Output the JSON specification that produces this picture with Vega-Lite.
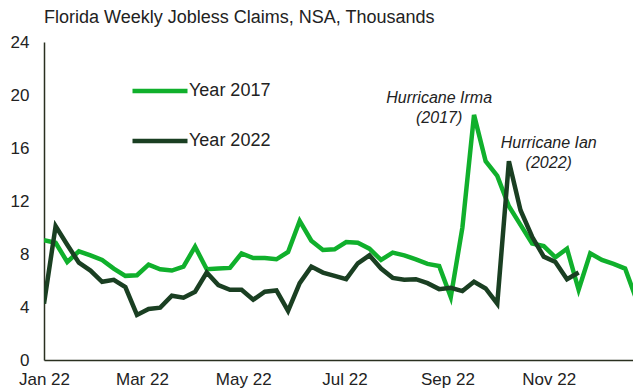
{
  "$schema": "https://vega.github.io/schema/vega-lite/v6.json",
  "width": 589,
  "height": 318,
  "autosize": {"type": "none"},
  "padding": {"left": 44, "top": 42, "right": 0, "bottom": 30},
  "background": "white",
  "title": {
    "text": "Florida Weekly Jobless Claims, NSA, Thousands",
    "anchor": "start",
    "frame": "group",
    "font": "Liberation Sans",
    "fontSize": 18,
    "fontWeight": "normal",
    "color": "#222222",
    "offset": 6,
    "dx": 0
  },
  "config": {
    "view": {"stroke": null},
    "font": "Liberation Sans"
  },
  "datasets": {
    "claims": [
      {"date": "2022-01-01", "series": "Year 2017", "value": 9.05},
      {"date": "2022-01-08", "series": "Year 2017", "value": 8.85},
      {"date": "2022-01-15", "series": "Year 2017", "value": 7.4},
      {"date": "2022-01-22", "series": "Year 2017", "value": 8.2},
      {"date": "2022-01-29", "series": "Year 2017", "value": 7.9},
      {"date": "2022-02-05", "series": "Year 2017", "value": 7.55},
      {"date": "2022-02-12", "series": "Year 2017", "value": 6.9},
      {"date": "2022-02-19", "series": "Year 2017", "value": 6.35},
      {"date": "2022-02-26", "series": "Year 2017", "value": 6.4},
      {"date": "2022-03-05", "series": "Year 2017", "value": 7.2},
      {"date": "2022-03-12", "series": "Year 2017", "value": 6.85},
      {"date": "2022-03-19", "series": "Year 2017", "value": 6.75},
      {"date": "2022-03-26", "series": "Year 2017", "value": 7.05},
      {"date": "2022-04-02", "series": "Year 2017", "value": 8.55},
      {"date": "2022-04-09", "series": "Year 2017", "value": 6.85},
      {"date": "2022-04-16", "series": "Year 2017", "value": 6.9},
      {"date": "2022-04-23", "series": "Year 2017", "value": 6.95},
      {"date": "2022-04-30", "series": "Year 2017", "value": 8.05},
      {"date": "2022-05-07", "series": "Year 2017", "value": 7.7},
      {"date": "2022-05-14", "series": "Year 2017", "value": 7.7},
      {"date": "2022-05-21", "series": "Year 2017", "value": 7.6},
      {"date": "2022-05-28", "series": "Year 2017", "value": 8.15},
      {"date": "2022-06-04", "series": "Year 2017", "value": 10.5},
      {"date": "2022-06-11", "series": "Year 2017", "value": 9.0},
      {"date": "2022-06-18", "series": "Year 2017", "value": 8.3},
      {"date": "2022-06-25", "series": "Year 2017", "value": 8.35},
      {"date": "2022-07-02", "series": "Year 2017", "value": 8.9},
      {"date": "2022-07-09", "series": "Year 2017", "value": 8.85},
      {"date": "2022-07-16", "series": "Year 2017", "value": 8.4},
      {"date": "2022-07-23", "series": "Year 2017", "value": 7.55},
      {"date": "2022-07-30", "series": "Year 2017", "value": 8.1},
      {"date": "2022-08-06", "series": "Year 2017", "value": 7.9},
      {"date": "2022-08-13", "series": "Year 2017", "value": 7.6},
      {"date": "2022-08-20", "series": "Year 2017", "value": 7.25},
      {"date": "2022-08-27", "series": "Year 2017", "value": 7.1},
      {"date": "2022-09-03", "series": "Year 2017", "value": 4.75},
      {"date": "2022-09-10", "series": "Year 2017", "value": 10.0},
      {"date": "2022-09-17", "series": "Year 2017", "value": 18.5},
      {"date": "2022-09-24", "series": "Year 2017", "value": 15.0},
      {"date": "2022-10-01", "series": "Year 2017", "value": 13.9},
      {"date": "2022-10-08", "series": "Year 2017", "value": 11.6},
      {"date": "2022-10-15", "series": "Year 2017", "value": 10.2},
      {"date": "2022-10-22", "series": "Year 2017", "value": 8.8},
      {"date": "2022-10-29", "series": "Year 2017", "value": 8.6},
      {"date": "2022-11-05", "series": "Year 2017", "value": 7.75},
      {"date": "2022-11-12", "series": "Year 2017", "value": 8.4},
      {"date": "2022-11-19", "series": "Year 2017", "value": 5.3},
      {"date": "2022-11-26", "series": "Year 2017", "value": 8.05},
      {"date": "2022-12-03", "series": "Year 2017", "value": 7.55},
      {"date": "2022-12-10", "series": "Year 2017", "value": 7.25},
      {"date": "2022-12-17", "series": "Year 2017", "value": 6.9},
      {"date": "2022-12-24", "series": "Year 2017", "value": 4.5},
      {"date": "2022-01-01", "series": "Year 2022", "value": 4.25},
      {"date": "2022-01-08", "series": "Year 2022", "value": 10.1},
      {"date": "2022-01-15", "series": "Year 2022", "value": 8.7},
      {"date": "2022-01-22", "series": "Year 2022", "value": 7.35},
      {"date": "2022-01-29", "series": "Year 2022", "value": 6.75},
      {"date": "2022-02-05", "series": "Year 2022", "value": 5.9},
      {"date": "2022-02-12", "series": "Year 2022", "value": 6.05},
      {"date": "2022-02-19", "series": "Year 2022", "value": 5.5},
      {"date": "2022-02-26", "series": "Year 2022", "value": 3.4},
      {"date": "2022-03-05", "series": "Year 2022", "value": 3.85},
      {"date": "2022-03-12", "series": "Year 2022", "value": 3.95},
      {"date": "2022-03-19", "series": "Year 2022", "value": 4.85},
      {"date": "2022-03-26", "series": "Year 2022", "value": 4.7},
      {"date": "2022-04-02", "series": "Year 2022", "value": 5.15},
      {"date": "2022-04-09", "series": "Year 2022", "value": 6.6},
      {"date": "2022-04-16", "series": "Year 2022", "value": 5.65},
      {"date": "2022-04-23", "series": "Year 2022", "value": 5.3},
      {"date": "2022-04-30", "series": "Year 2022", "value": 5.3},
      {"date": "2022-05-07", "series": "Year 2022", "value": 4.55},
      {"date": "2022-05-14", "series": "Year 2022", "value": 5.15},
      {"date": "2022-05-21", "series": "Year 2022", "value": 5.25},
      {"date": "2022-05-28", "series": "Year 2022", "value": 3.7},
      {"date": "2022-06-04", "series": "Year 2022", "value": 5.8},
      {"date": "2022-06-11", "series": "Year 2022", "value": 7.05},
      {"date": "2022-06-18", "series": "Year 2022", "value": 6.6},
      {"date": "2022-06-25", "series": "Year 2022", "value": 6.35},
      {"date": "2022-07-02", "series": "Year 2022", "value": 6.1},
      {"date": "2022-07-09", "series": "Year 2022", "value": 7.3},
      {"date": "2022-07-16", "series": "Year 2022", "value": 7.9},
      {"date": "2022-07-23", "series": "Year 2022", "value": 6.9},
      {"date": "2022-07-30", "series": "Year 2022", "value": 6.2},
      {"date": "2022-08-06", "series": "Year 2022", "value": 6.05},
      {"date": "2022-08-13", "series": "Year 2022", "value": 6.1},
      {"date": "2022-08-20", "series": "Year 2022", "value": 5.8},
      {"date": "2022-08-27", "series": "Year 2022", "value": 5.35},
      {"date": "2022-09-03", "series": "Year 2022", "value": 5.45},
      {"date": "2022-09-10", "series": "Year 2022", "value": 5.2},
      {"date": "2022-09-17", "series": "Year 2022", "value": 5.9},
      {"date": "2022-09-24", "series": "Year 2022", "value": 5.4},
      {"date": "2022-10-01", "series": "Year 2022", "value": 4.25},
      {"date": "2022-10-08", "series": "Year 2022", "value": 15.0},
      {"date": "2022-10-15", "series": "Year 2022", "value": 11.3},
      {"date": "2022-10-22", "series": "Year 2022", "value": 9.3},
      {"date": "2022-10-29", "series": "Year 2022", "value": 7.8},
      {"date": "2022-11-05", "series": "Year 2022", "value": 7.4},
      {"date": "2022-11-12", "series": "Year 2022", "value": 6.1},
      {"date": "2022-11-19", "series": "Year 2022", "value": 6.6}
    ],
    "notes": [
      {"date": "2022-08-27", "value": 19.75, "label": "Hurricane Irma\n(2017)"},
      {"date": "2022-11-01", "value": 16.4, "label": "Hurricane Ian\n(2022)"}
    ]
  },
  "encoding": {
    "x": {
      "field": "date",
      "type": "temporal",
      "scale": {
        "type": "utc",
        "domain": [
          {"year": 2022, "month": 1, "date": 1, "utc": true},
          {"year": 2022, "month": 12, "date": 21, "hours": 18, "utc": true}
        ]
      },
      "axis": {
        "title": null,
        "values": [
          {"year": 2022, "month": 1, "date": 1, "utc": true},
          {"year": 2022, "month": 3, "date": 1, "utc": true},
          {"year": 2022, "month": 5, "date": 1, "utc": true},
          {"year": 2022, "month": 7, "date": 1, "utc": true},
          {"year": 2022, "month": 9, "date": 1, "utc": true},
          {"year": 2022, "month": 11, "date": 1, "utc": true}
        ],
        "labelExpr": "utcFormat(datum.value, '%b %y')",
        "ticks": false,
        "grid": false,
        "domainColor": "#2a3020",
        "domainWidth": 1.5,
        "labelFont": "Liberation Sans",
        "labelFontSize": 17,
        "labelColor": "#222222",
        "labelPadding": 11,
        "labelFlush": false,
        "labelOverlap": false
      }
    },
    "y": {
      "field": "value",
      "type": "quantitative",
      "scale": {"domain": [0, 24], "nice": false, "zero": true},
      "axis": {
        "title": null,
        "values": [0, 4, 8, 12, 16, 20, 24],
        "ticks": false,
        "grid": false,
        "domainColor": "#2a3020",
        "domainWidth": 1.5,
        "labelFont": "Liberation Sans",
        "labelFontSize": 17,
        "labelColor": "#222222",
        "labelPadding": 15
      }
    }
  },
  "layer": [
    {
      "data": {"name": "claims"},
      "mark": {"type": "line", "strokeWidth": 4.5, "clip": true, "strokeJoin": "miter"},
      "encoding": {
        "color": {
          "field": "series",
          "type": "nominal",
          "scale": {"domain": ["Year 2017", "Year 2022"], "range": ["#10b02c", "#1a3f22"]},
          "legend": {
            "orient": "none",
            "legendX": 86,
            "legendY": 19,
            "title": null,
            "symbolType": "stroke",
            "symbolSize": 3025,
            "symbolStrokeWidth": 4.5,
            "labelFont": "Liberation Sans",
            "labelFontSize": 18,
            "labelColor": "#222222",
            "labelOffset": -1,
            "rowPadding": 11
          }
        }
      }
    },
    {
      "data": {"name": "notes"},
      "mark": {
        "type": "text",
        "font": "Liberation Sans",
        "fontSize": 16,
        "fontStyle": "italic",
        "color": "#222222",
        "align": "center",
        "baseline": "middle",
        "lineBreak": "\n",
        "lineHeight": 20
      },
      "encoding": {
        "text": {"field": "label"}
      }
    }
  ]
}
